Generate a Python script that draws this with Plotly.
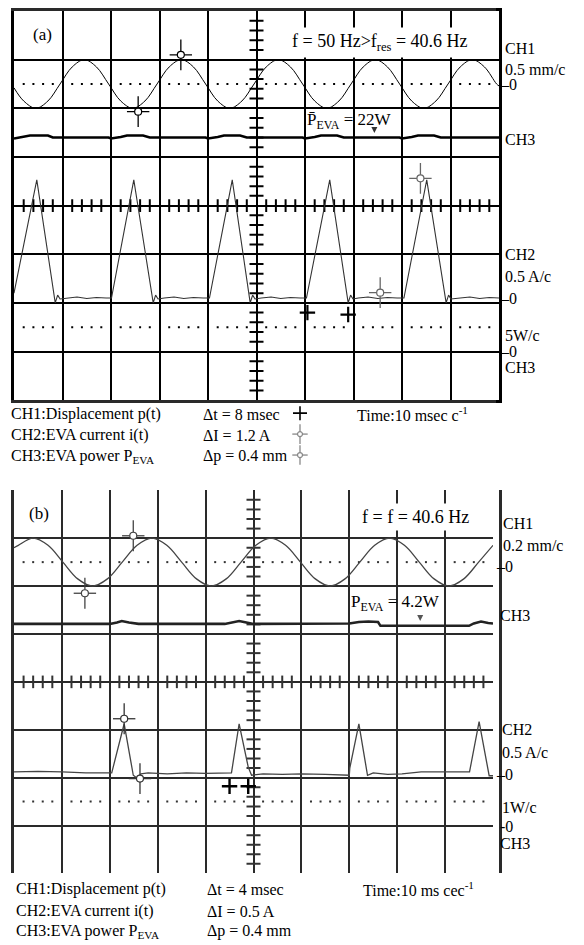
import numpy as np
import plotly.graph_objects as go

# The page body has an 8px margin, so the figure is 8px smaller and every
# reference pixel position is shifted by OFF.
OFF = 8
W, H = 584 - OFF, 945 - OFF
FONT = "Liberation Serif"

# ---------------- Panel (a) data (screen divisions: x 0..10, y -4..4) -------------
a_ch1_x = [0.0, 0.2, 0.45, 0.7, 0.95, 1.2, 1.45, 1.7, 1.95, 2.2, 2.45, 2.7, 2.95, 3.2, 3.45,
           3.7, 3.95, 4.2, 4.45, 4.7, 4.95, 5.2, 5.45, 5.7, 5.95, 6.2, 6.45, 6.7, 6.95, 7.2,
           7.45, 7.7, 7.95, 8.2, 8.45, 8.7, 8.95, 9.2, 9.45, 9.7, 9.95, 10.0]
a_ch1_y = [2.42, 2.15, 2.0, 2.15, 2.5, 2.85, 3.0, 2.85, 2.5, 2.15, 2.0, 2.15, 2.5, 2.85, 3.0,
           2.85, 2.5, 2.15, 2.0, 2.15, 2.5, 2.85, 3.0, 2.85, 2.5, 2.15, 2.0, 2.15, 2.5, 2.85,
           3.0, 2.85, 2.5, 2.15, 2.0, 2.15, 2.5, 2.85, 3.0, 2.85, 2.5, 2.46]

a_ch2_x = [0.0, 0.47, 0.85, 0.9, 0.95, 1.1, 1.3, 1.5, 1.7, 1.9,
           2.01, 2.47, 2.87, 2.92, 2.97, 3.1, 3.3, 3.5, 3.7, 3.9,
           4.03, 4.5, 4.87, 4.92, 4.97, 5.1, 5.3, 5.5, 5.7, 5.9,
           6.03, 6.51, 6.89, 6.94, 6.99, 7.1, 7.3, 7.5, 7.7, 7.9,
           8.04, 8.51, 8.91, 8.96, 9.01, 9.2, 9.4, 9.6, 9.8, 10.0]
a_ch2_y = [-1.8, 0.53, -2.0, -1.84, -1.92, -1.9, -1.88, -1.91, -1.89, -1.9,
           -1.9, 0.53, -2.0, -1.84, -1.92, -1.9, -1.88, -1.91, -1.89, -1.9,
           -1.9, 0.53, -2.0, -1.84, -1.92, -1.9, -1.88, -1.91, -1.89, -1.9,
           -1.9, 0.53, -2.0, -1.84, -1.92, -1.9, -1.88, -1.91, -1.89, -1.9,
           -1.9, 0.53, -2.0, -1.84, -1.92, -1.9, -1.88, -1.91, -1.89, -1.9]

a_ch3_x = [0.0, 0.2, 0.33, 0.7, 0.8, 1.95, 2.0, 2.2, 2.33, 2.66, 2.8, 3.95, 4.0, 4.2, 4.33,
           4.66, 4.8, 5.95, 6.0, 6.2, 6.33, 6.66, 6.8, 7.95, 8.0, 8.2, 8.33, 8.66, 8.8, 10.0]
a_ch3_y = [1.38, 1.41, 1.44, 1.44, 1.40, 1.40, 1.38, 1.41, 1.44, 1.44, 1.40, 1.40, 1.38, 1.41, 1.44,
           1.44, 1.40, 1.40, 1.38, 1.41, 1.44, 1.44, 1.40, 1.40, 1.38, 1.41, 1.44, 1.44, 1.40, 1.40]

a_cur_ch1_x, a_cur_ch1_y = [3.44, 2.56], [3.10, 1.93]
a_cur_ch2_x, a_cur_ch2_y = [8.38, 7.55], [0.56, -1.79]
a_cur_t_x, a_cur_t_y = [6.05, 6.89], [-2.2, -2.24]
a_cur_p_x, a_cur_p_y = [7.43], [1.49]

# ---------------- Panel (b) data ----------------
b_ch1_x = [0.0, 0.09, 0.40, 0.71, 1.02, 1.33, 1.64, 1.95, 2.26, 2.57, 2.88, 3.19, 3.50, 3.81,
           4.12, 4.43, 4.74, 5.05, 5.36, 5.67, 5.98, 6.29, 6.60, 6.91, 7.22, 7.53, 7.84, 8.15,
           8.46, 8.77, 9.08, 9.39, 9.70, 10.0]
b_ch1_y = [2.8, 2.85, 3.0, 2.85, 2.5, 2.15, 2.0, 2.15, 2.5, 2.85, 3.0, 2.85, 2.5, 2.15,
           2.0, 2.15, 2.5, 2.85, 3.0, 2.85, 2.5, 2.15, 2.0, 2.15, 2.5, 2.85, 3.0, 2.85,
           2.5, 2.15, 2.0, 2.15, 2.5, 2.85]

b_ch2_x = [0.0, 0.5, 1.0, 1.5, 2.04, 2.30, 2.49, 2.58, 2.65, 2.8, 3.2, 3.6, 4.0, 4.54, 4.70,
           4.89, 4.96, 5.2, 5.6, 6.0, 6.5, 7.0, 7.01, 7.20, 7.38, 7.5, 7.8, 8.1, 8.5, 8.9,
           9.4, 9.51, 9.71, 9.92, 10.0]
b_ch2_y = [-1.88, -1.87, -1.88, -1.9, -1.9, -0.875, -1.95, -2.02, -1.92, -1.9, -1.92, -1.9,
           -1.91, -1.9, -0.875, -1.78, -1.95, -1.92, -1.93, -1.92, -1.93, -1.95, -1.8, -0.875,
           -1.95, -1.9, -1.93, -1.92, -1.88, -1.88, -1.88, -1.88, -0.83, -1.96, -1.96]

b_ch3_x = [0.0, 1.0, 2.0, 2.15, 2.25, 2.4, 2.6, 4.4, 4.6, 4.7, 4.85, 5.0, 7.0, 7.2, 7.4,
           7.6, 7.65, 9.5, 9.6, 9.75, 9.9, 10.0]
b_ch3_y = [1.21, 1.21, 1.21, 1.24, 1.27, 1.24, 1.21, 1.21, 1.24, 1.27, 1.24, 1.21, 1.22, 1.25,
           1.26, 1.25, 1.17, 1.17, 1.22, 1.26, 1.23, 1.22]

b_cur_ch1_x, b_cur_ch1_y = [2.49, 1.48], [3.05, 1.85]
b_cur_ch2_x, b_cur_ch2_y = [2.30, 2.63], [-0.77, -2.02]
b_cur_t_x, b_cur_t_y = [4.50, 4.89], [-2.18, -2.18]
b_cur_p_x, b_cur_p_y = [8.48], [1.27]

# ---------------- figure ----------------
fig = go.Figure()


def px(x):
    return (x - OFF) / W


def py(y):
    return 1 - (y - OFF) / H


def grid_axis(domain, rng, color, gw, lw):
    return dict(domain=domain, range=rng, showgrid=True, gridcolor=color, gridwidth=gw,
                dtick=1, tick0=0, showticklabels=False, ticks="", zeroline=False,
                showline=True, mirror=True, linecolor=color, linewidth=lw, fixedrange=True)


def add(xs, ys, xa, ya, **kw):
    fig.add_trace(go.Scatter(x=xs, y=ys, xaxis=xa, yaxis=ya, showlegend=False,
                             hoverinfo="skip", **kw))


def crosshair(xs, ys, color, xa, ya, vs=22, hs=16, cs=7):
    add(xs, ys, xa, ya, mode="markers",
        marker=dict(symbol="line-ns-open", size=vs, color=color, line=dict(color=color, width=1.3)))
    add(xs, ys, xa, ya, mode="markers",
        marker=dict(symbol="line-ew-open", size=hs, color=color, line=dict(color=color, width=1.3)))
    add(xs, ys, xa, ya, mode="markers",
        marker=dict(symbol="circle", size=cs, color="white", line=dict(color=color, width=1.2)))


def scope_decor(xa, ya, color):
    # dotted reference lines and centre-line ticks
    dots = np.array([k + f for k in range(10) for f in (0.2, 0.4, 0.6, 0.8)])
    for yl in (2.5, -2.5):
        add(dots, np.full(dots.size, yl), xa, ya, mode="markers",
            marker=dict(symbol="square", size=2, color=color, line=dict(width=0)))
    sub = np.round(np.arange(-4, 4.001, 0.2), 2)
    sub = sub[np.abs(sub - np.round(sub)) > 1e-6]
    add(np.full(sub.size, 5.0), sub, xa, ya, mode="markers",
        marker=dict(symbol="line-ew-open", size=10, color=color, line=dict(color=color, width=2)))
    subx = np.round(np.arange(0, 10.001, 0.2), 2)
    subx = subx[np.abs(subx - np.round(subx)) > 1e-6]
    add(subx, np.zeros(subx.size), xa, ya, mode="markers",
        marker=dict(symbol="line-ns-open", size=9, color=color, line=dict(color=color, width=2)))


# panel (a)
scope_decor("x", "y", "black")
add(a_ch1_x, a_ch1_y, "x", "y", mode="lines", line=dict(color="black", width=1, shape="spline", smoothing=1.0))
add(a_ch3_x, a_ch3_y, "x", "y", mode="lines", line=dict(color="black", width=2.6))
add(a_ch2_x, a_ch2_y, "x", "y", mode="lines", line=dict(color="#333333", width=1.1))
crosshair(a_cur_ch1_x, a_cur_ch1_y, "black", "x", "y")
crosshair(a_cur_ch2_x, a_cur_ch2_y, "#666666", "x", "y")
add(a_cur_t_x, a_cur_t_y, "x", "y", mode="markers",
    marker=dict(symbol="cross-thin-open", size=11, color="black", line=dict(color="black", width=2.2)))
add(a_cur_p_x, a_cur_p_y, "x", "y", mode="markers",
    marker=dict(symbol="arrow-down", size=6, color="#333333", line=dict(width=0)))

# panel (b)
scope_decor("x2", "y2", "#333333")
add(b_ch1_x, b_ch1_y, "x2", "y2", mode="lines", line=dict(color="#444444", width=1.3, shape="spline", smoothing=1.0))
add(b_ch3_x, b_ch3_y, "x2", "y2", mode="lines", line=dict(color="#222222", width=2.6))
add(b_ch2_x, b_ch2_y, "x2", "y2", mode="lines", line=dict(color="#444444", width=1.3))
crosshair(b_cur_ch1_x, b_cur_ch1_y, "#444444", "x2", "y2")
crosshair(b_cur_ch2_x, b_cur_ch2_y, "#333333", "x2", "y2")
add(b_cur_t_x, b_cur_t_y, "x2", "y2", mode="markers",
    marker=dict(symbol="cross-thin-open", size=11, color="black", line=dict(color="black", width=2.4)))
add(b_cur_p_x, b_cur_p_y, "x2", "y2", mode="markers",
    marker=dict(symbol="arrow-down", size=6, color="#555555", line=dict(width=0)))

# legend glyphs under panel (a) (pixel overlay axis)
add([300], [412], "x3", "y3", mode="markers",
    marker=dict(symbol="cross-thin-open", size=10, color="black", line=dict(color="black", width=1.6)))
crosshair([300, 300], [433, 454], "#888888", "x3", "y3", vs=14, hs=11, cs=5)

fig.update_layout(
    width=W, height=H, margin=dict(l=0, r=0, t=0, b=0),
    paper_bgcolor="white", plot_bgcolor="rgba(0,0,0,0)",
    xaxis=grid_axis([px(14), px(499)], [0, 10], "black", 2, 2.5),
    yaxis=grid_axis([py(399), py(9)], [-4, 4], "black", 2, 2.5),
    xaxis2=grid_axis([px(14), px(493)], [0, 10], "#2a2a2a", 2, 2.5),
    yaxis2=grid_axis([py(873.3), py(489.3)], [-4, 4], "#2a2a2a", 2, 2.5),
    xaxis3=dict(domain=[0, 1], range=[OFF, OFF + W], visible=False, fixedrange=True),
    yaxis3=dict(domain=[0, 1], range=[OFF + H, OFF], visible=False, fixedrange=True),
    font=dict(family=FONT, color="black"),
)

ann = []


def text(t, x, y, size=16, anchor="left", bg=None, pad=1):
    d = dict(text=t, x=x, y=y, xref="x3", yref="y3", xanchor=anchor, yanchor="middle",
             showarrow=False, font=dict(family=FONT, size=size, color="black"), borderpad=pad)
    if bg:
        d["bgcolor"] = bg
    ann.append(d)


# panel (a) texts
text("(a)", 31, 33, 17)
text("f = 50 Hz&gt;f<sub>res</sub> = 40.6 Hz", 380, 41, 18, anchor="center", bg="white", pad=3)
text("P̄<sub>EVA</sub> = 22W", 305, 119, 17)
for t, x, y in [("CH1", 503, 47), ("0.5 mm/c", 503, 68), ("–0", 498, 83), ("CH3", 503, 138),
                ("CH2", 503, 253), ("0.5 A/c", 503, 275), ("–0", 498, 297), ("5W/c", 503, 334),
                ("–0", 498, 350), ("CH3", 503, 366)]:
    text(t, x, y, 16)
for t, x, y in [("CH1:Displacement p(t)", 9, 413), ("CH2:EVA current i(t)", 9, 434),
                ("CH3:EVA power P<sub>EVA</sub>", 9, 455), ("Δt = 8 msec", 201, 413),
                ("ΔI = 1.2 A", 201, 434), ("Δp = 0.4 mm", 201, 455),
                ("Time:10 msec c<sup>-1</sup>", 355, 413)]:
    text(t, x, y, 16)

# panel (b) texts
text("(b)", 27, 513, 17)
text("f = f = 40.6 Hz", 415, 516, 18, anchor="center", bg="white", pad=3)
text("P<sub>EVA</sub> = 4.2W", 349, 602, 17)
for t, x, y in [("CH1", 501, 523), ("0.2 mm/c", 501, 545), ("–0", 494, 566), ("CH3", 498, 615),
                ("CH2", 500, 729), ("0.5 A/c", 500, 752), ("–0", 494, 774), ("1W/c", 500, 807),
                ("-0", 498, 826), ("CH3", 498, 843)]:
    text(t, x, y, 16)
for t, x, y in [("CH1:Displacement p(t)", 14, 889), ("CH2:EVA current i(t)", 14, 911),
                ("CH3:EVA power P<sub>EVA</sub>", 14, 931), ("Δt = 4 msec", 205, 889),
                ("ΔI = 0.5 A", 205, 911), ("Δp = 0.4 mm", 205, 931),
                ("Time:10 ms cec<sup>-1</sup>", 361, 889)]:
    text(t, x, y, 16)

fig.update_layout(annotations=ann)
fig.write_html("out.html")
